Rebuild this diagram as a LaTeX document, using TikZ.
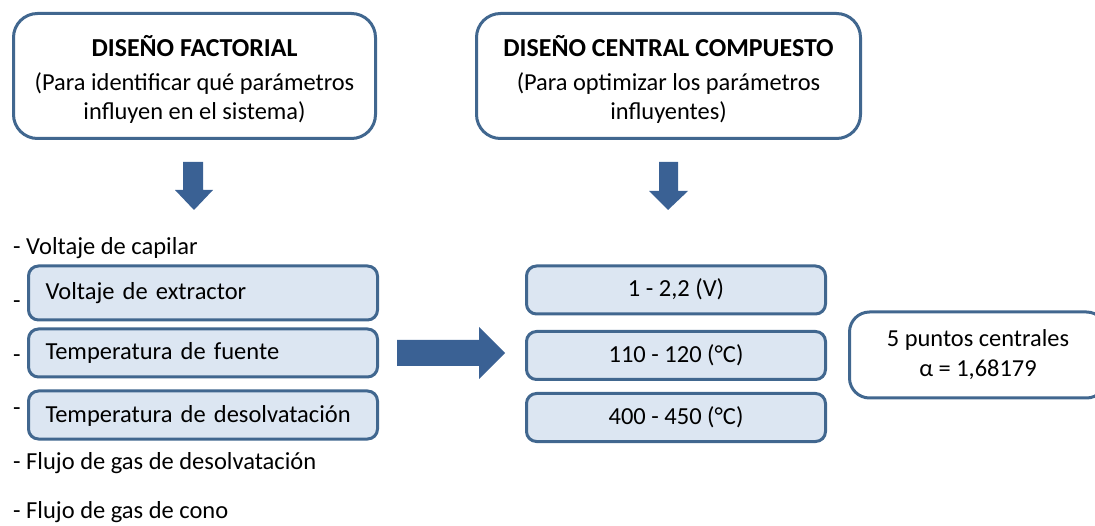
\documentclass[tikz,border=0pt]{standalone}
\usepackage{fontspec}
\setmainfont{Carlito}
\definecolor{boxline}{HTML}{41678F}
\definecolor{boxfill}{HTML}{DCE6F2}
\definecolor{arrowfill}{HTML}{3A6194}
\tikzset{
  design/.style={draw=boxline, line width=3pt, rounded corners=24pt, fill=white,
    minimum height=125pt, align=center, inner sep=0pt,
    font=\fontsize{24.4}{28.5}\selectfont},
  param/.style={draw=boxline, line width=3pt, rounded corners=10pt, fill=boxfill,
    minimum height=48pt, inner ysep=0pt, text height=19pt, text depth=5pt,
    font=\fontsize{24.5}{28}\selectfont},
  listitem/.style={anchor=base west, inner sep=0pt, font=\fontsize{24.5}{28}\selectfont},
  blockarrow/.style={fill=arrowfill}
}
\begin{document}
\begin{tikzpicture}[x=1pt, y=-1pt]
\useasboundingbox (0,0) rectangle (1095,526);
% top boxes
\node[design, minimum width=362pt] (fact) at (194.5,76)
  {\rule{0pt}{27pt}{\fontsize{25.9}{27}\selectfont\bfseries DISEÑO FACTORIAL}\\[6pt]
   (Para identificar qué parámetros\\ influyen en el sistema)};
\node[design, minimum width=384pt] (ccd) at (668.5,76)
  {\rule{0pt}{27pt}{\fontsize{25.9}{27}\selectfont\bfseries DISEÑO CENTRAL COMPUESTO}\\[6pt]
   (Para optimizar los parámetros\\ influyentes)};
% arrows
\fill[blockarrow] (183,162) -- (203,162) -- (203,190) -- (213,190) -- (194,210)
  -- (175,190) -- (183,190) -- cycle;
\fill[blockarrow] (659,162) -- (678,162) -- (678,191) -- (688,191) -- (668,210)
  -- (649,191) -- (659,191) -- cycle;
\fill[blockarrow] (397,340) -- (479,340) -- (479,327) -- (505,353) -- (479,379)
  -- (479,366) -- (397,366) -- cycle;
% parameter list
\node[listitem] (capilar) at (13,255) {- Voltaje de capilar};
\node[listitem] (dash1) at (13,309) {-};
\node[listitem] (dash2) at (13,363) {-};
\node[listitem] (dash3) at (13,415) {-};
\node[listitem] (flujodes) at (13,469) {- Flujo de gas de desolvatación};
\node[listitem] (flujocono) at (13,518) {- Flujo de gas de cono};
\node[param, minimum height=54pt, text width=315pt, inner xsep=17pt, align=left]
  (extractor) at (203,293) {Voltaje de extractor};
\node[param, text width=315pt, inner xsep=17pt, align=left]
  (fuente) at (203,353) {Temperatura de fuente};
\node[param, text width=315pt, inner xsep=17pt, align=left]
  (desolv) at (203,415) {Temperatura de desolvatación};
% levels
\node[param, minimum width=299pt] (nivel1) at (676,290) {1 - 2,2 (V)};
\node[param, minimum width=299pt] (nivel2) at (676,355.5) {110 - 120 (°C)};
\node[param, minimum width=299pt] (nivel3) at (676,417.5) {400 - 450 (°C)};
% central points
\node[draw=boxline, line width=3pt, rounded corners=20pt, minimum width=257pt,
  minimum height=86pt, align=center, font=\fontsize{24.4}{30}\selectfont]
  (centro) at (978,355) {5 puntos centrales\\ α = 1,68179};
\end{tikzpicture}
\end{document}
